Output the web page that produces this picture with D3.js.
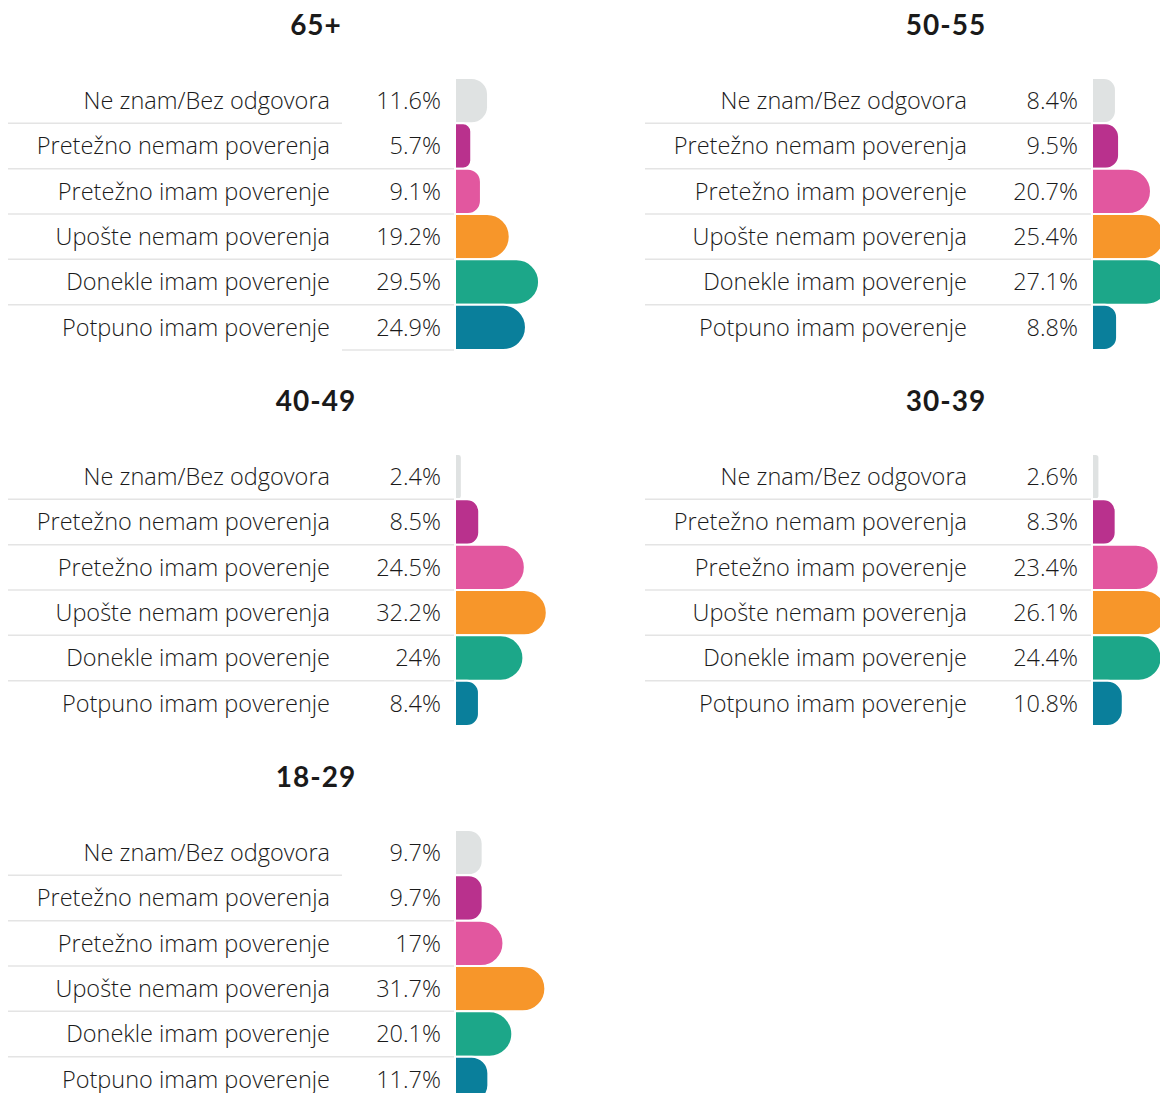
<!DOCTYPE html>
<html>
<head>
  <meta charset="utf-8">
  <title>Poverenje po starosti</title>
  <style>
    body { margin: 0; background: #fff; }
    text { font-family: "Open Sans", sans-serif; fill: #1a1a1a; }
  </style>
  <script src="https://d3js.org/d3.v7.min.js"></script>
</head>
<body>
<svg width="1160" height="1093"></svg>
<script>
var categories = ["Ne znam/Bez odgovora", "Pretežno nemam poverenja", "Pretežno imam poverenje",
                  "Upošte nemam poverenja", "Donekle imam poverenje", "Potpuno imam poverenje"];
var groups = ["65+", "50-55", "40-49", "30-39", "18-29"];
var values65 = [11.6, 5.7, 9.1, 19.2, 29.5, 24.9];
var values5055 = [8.4, 9.5, 20.7, 25.4, 27.1, 8.8];
var values4049 = [2.4, 8.5, 24.5, 32.2, 24, 8.4];
var values3039 = [2.6, 8.3, 23.4, 26.1, 24.4, 10.8];
var values1829 = [9.7, 9.7, 17, 31.7, 20.1, 11.7];
var colors = ["#dfe2e2", "#b9318d", "#e2579f", "#f7962a", "#1ca789", "#0a7f9b"];

var series = [values65, values5055, values4049, values3039, values1829];

var svg = d3.select("svg");

// panel placement (left column / right column, three rows)
var colX = [0, 637];
var rowY = [77, 453, 829];
var titleX = [316, 946];
// first and last rule drawn oddly in some panels of the original
var oddRules = [true, false, false, false, true];

var x = d3.scaleLinear().domain([0, 10]).range([0, 28.5]);
var y = d3.scaleBand().domain(categories).range([1, 273]);

var color = d3.scaleOrdinal().domain(categories).range(colors);

function barPath(w, h) {
  var r = Math.min(w / 2, h / 2);
  return "M0,0H" + (w - r) +
    "A" + r + "," + r + " 0 0 1 " + w + "," + r +
    "V" + (h - r) +
    "A" + r + "," + r + " 0 0 1 " + (w - r) + "," + h +
    "H0Z";
}

groups.forEach(function(name, i) {
  var col = i % 2, row = Math.floor(i / 2);
  var g = svg.append("g")
    .attr("transform", "translate(" + colX[col] + "," + rowY[row] + ")");

  svg.append("text")
    .attr("x", titleX[col])
    .attr("y", rowY[row] - 52)
    .attr("dy", "0.35em")
    .attr("text-anchor", "middle")
    .attr("font-size", "28px")
    .attr("font-weight", 700)
    .attr("letter-spacing", "1px")
    .style("font-family", "Lato, sans-serif")
    .text(name);

  var data = categories.map(function(c, k) { return { cat: c, value: series[i][k] }; });

  // rules between rows
  data.forEach(function(d, k) {
    var yy = y(d.cat) + y.bandwidth();
    var x0 = 8, x1 = 455;
    if (k === 0 && oddRules[i]) x1 = 342;
    if (k === data.length - 1) {
      if (!oddRules[i]) return;
      x0 = 342;
    }
    g.append("line")
      .attr("x1", x0).attr("x2", x1)
      .attr("y1", yy).attr("y2", yy)
      .attr("stroke", "#e4e4e4")
      .attr("stroke-width", 1.5);
  });

  g.selectAll(".bar")
    .data(data)
    .enter().append("path")
    .attr("class", "bar")
    .attr("transform", function(d) { return "translate(455," + y(d.cat) + ")"; })
    .attr("d", function(d) { return barPath(x(d.value), y.bandwidth()); })
    .attr("fill", function(d) { return color(d.cat); })
    .attr("stroke", "#fff")
    .attr("stroke-width", 2);

  g.selectAll(".lab")
    .data(data)
    .enter().append("text")
    .attr("class", "lab")
    .attr("x", 330)
    .attr("y", function(d) { return y(d.cat) + y.bandwidth() / 2; })
    .attr("dy", "0.35em")
    .attr("text-anchor", "end")
    .attr("font-size", "23.5px")
    .attr("font-weight", 300)
    .text(function(d) { return d.cat; });

  g.selectAll(".val")
    .data(data)
    .enter().append("text")
    .attr("class", "val")
    .attr("x", 441)
    .attr("y", function(d) { return y(d.cat) + y.bandwidth() / 2; })
    .attr("dy", "0.35em")
    .attr("text-anchor", "end")
    .attr("font-size", "23.5px")
    .attr("font-weight", 300)
    .text(function(d) { return d.value + "%"; });
});
</script>
</body>
</html>
